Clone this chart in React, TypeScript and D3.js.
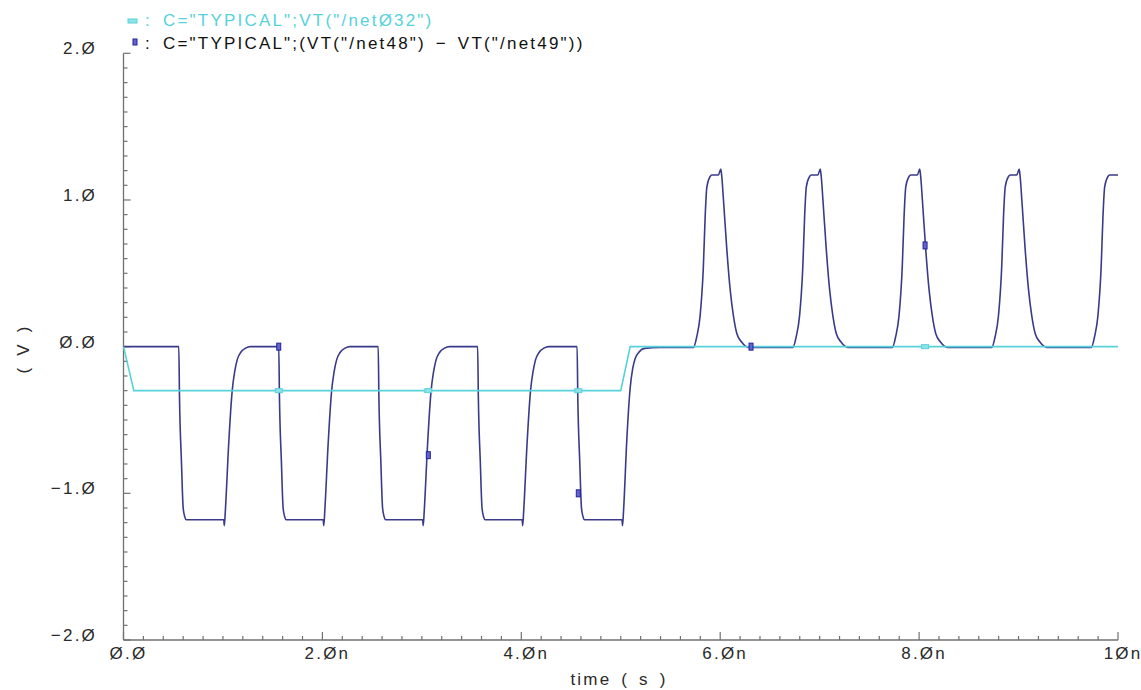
import React from "react";
import * as d3 from "d3";

const W = 1141;
const H = 690;

// Axis ticks and labels (Cadence style slashed zeros)
const yTicks = [2, 1, 0, -1, -2];
const yTickLabels = ["2.Ø", "1.Ø", "Ø.Ø", "−1.Ø", "−2.Ø"];
const xTicks = [0, 2, 4, 6, 8, 10];
const xTickLabels = ["Ø.Ø", "2.Øn", "4.Øn", "6.Øn", "8.Øn", "1Øn"];
const xTitle = "time ( s )";
const yTitle = "( V )";

const legendLabels = [
  'C="TYPICAL";VT("/netØ32")',
  'C="TYPICAL";(VT("/net48") − VT("/net49"))',
];

// VT("/net032"): [time (ns), volts]
const net032: [number, number][] = [
  [0, 0], [0.104, -0.3], [5.0, -0.3], [5.095, 0], [10, 0],
];

// VT("/net48") - VT("/net49"): [time (ns), volts]
const diff: [number, number][] = [
  [0, 0],
  [0.556, 0], [0.563, -0.34], [0.583, -0.79], [0.6, -1.1], [0.616, -1.16], [0.631, -1.18],
  [1.008, -1.18], [1.014, -1.22], [1.024, -1.12], [1.058, -0.66], [1.093, -0.3], [1.118, -0.17], [1.143, -0.09], [1.178, -0.04], [1.228, -0.01], [1.278, 0],
  [1.561, 0], [1.568, -0.34], [1.588, -0.79], [1.605, -1.1], [1.621, -1.16], [1.636, -1.18],
  [2.008, -1.18], [2.014, -1.22], [2.024, -1.12], [2.058, -0.66], [2.093, -0.3], [2.118, -0.17], [2.143, -0.09], [2.178, -0.04], [2.228, -0.01], [2.278, 0],
  [2.561, 0], [2.568, -0.34], [2.588, -0.79], [2.605, -1.1], [2.621, -1.16], [2.636, -1.18],
  [3.008, -1.18], [3.014, -1.22], [3.024, -1.12], [3.058, -0.66], [3.093, -0.3], [3.118, -0.17], [3.143, -0.09], [3.178, -0.04], [3.228, -0.01], [3.278, 0],
  [3.561, 0], [3.568, -0.34], [3.588, -0.79], [3.605, -1.1], [3.621, -1.16], [3.636, -1.18],
  [4.008, -1.18], [4.014, -1.22], [4.024, -1.12], [4.058, -0.66], [4.093, -0.3], [4.118, -0.17], [4.143, -0.09], [4.178, -0.04], [4.228, -0.01], [4.278, 0],
  [4.561, 0], [4.568, -0.34], [4.588, -0.79], [4.605, -1.1], [4.621, -1.16], [4.636, -1.18],
  [5.012, -1.18], [5.018, -1.22], [5.028, -1.12], [5.062, -0.62], [5.095, -0.28], [5.12, -0.15], [5.145, -0.08], [5.18, -0.04], [5.24, -0.012], [5.4, -0.006],
  [5.731, -0.005], [5.765, 0.07], [5.798, 0.21], [5.831, 0.55], [5.849, 0.89], [5.866, 1.09], [5.899, 1.16], [5.916, 1.17], [5.982, 1.17], [6.006, 1.21], [6.016, 1.16], [6.033, 1.0], [6.067, 0.66], [6.1, 0.39], [6.133, 0.21], [6.167, 0.09], [6.217, 0.03], [6.284, -0.005],
  [6.731, -0.005], [6.765, 0.07], [6.798, 0.21], [6.831, 0.55], [6.849, 0.89], [6.866, 1.09], [6.899, 1.16], [6.916, 1.17], [6.982, 1.17], [7.006, 1.21], [7.016, 1.16], [7.033, 1.0], [7.067, 0.66], [7.1, 0.39], [7.133, 0.21], [7.167, 0.09], [7.217, 0.03], [7.284, -0.005],
  [7.731, -0.005], [7.765, 0.07], [7.798, 0.21], [7.831, 0.55], [7.849, 0.89], [7.866, 1.09], [7.899, 1.16], [7.916, 1.17], [7.982, 1.17], [8.006, 1.21], [8.016, 1.16], [8.033, 1.0], [8.067, 0.66], [8.1, 0.39], [8.133, 0.21], [8.167, 0.09], [8.217, 0.03], [8.284, -0.005],
  [8.731, -0.005], [8.765, 0.07], [8.798, 0.21], [8.831, 0.55], [8.849, 0.89], [8.866, 1.09], [8.899, 1.16], [8.916, 1.17], [8.982, 1.17], [9.006, 1.21], [9.016, 1.16], [9.033, 1.0], [9.067, 0.66], [9.1, 0.39], [9.133, 0.21], [9.167, 0.09], [9.217, 0.03], [9.284, -0.005],
  [9.731, -0.005], [9.765, 0.07], [9.798, 0.21], [9.831, 0.55], [9.849, 0.89], [9.866, 1.09], [9.899, 1.16], [9.916, 1.17], [10.0, 1.17],
];

// point markers drawn on the traces
const diffMarkers: [number, number][] = [[1.561, 0], [3.065, -0.74], [4.573, -1.0], [6.31, 0], [8.06, 0.69]];
const netMarkers: [number, number][] = [[1.561, -0.3], [3.065, -0.3], [4.573, -0.3], [8.06, 0]];

const CYAN = "#56d2da";
const NAVY = "#3a3a8c";
const AXIS = "#707070";
const TEXT = "#2a2a2a";
const FONT = "'Liberation Sans', Arial, sans-serif";
const FS = 17;
const LS = 2.2;
const WS = 3;

export default function App() {
  const x = d3.scaleLinear().domain([0, 10]).range([123.5, 1118]);
  const y = d3.scaleLinear().domain([-2, 2]).range([640, 53.3]);
  const smooth = d3
    .line<[number, number]>()
    .x((d) => x(d[0]))
    .y((d) => y(d[1]))
    .curve(d3.curveMonotoneX);
  const straight = d3
    .line<[number, number]>()
    .x((d) => x(d[0]))
    .y((d) => y(d[1]));

  const yMinor = d3.range(-20, 21).map((i) => i / 10);
  const xMinor = d3.range(0, 51).map((i) => i / 5);
  const x0 = x(0);
  const yb = y(-2);

  const txt = { fontSize: FS, letterSpacing: LS, wordSpacing: WS } as const;

  return (
    <svg
      width={W}
      height={H}
      style={{ position: "absolute", left: 0, top: 0, background: "#ffffff" }}
      fontFamily={FONT}
    >
      {/* axes */}
      <line x1={x0} x2={x0} y1={y(2)} y2={yb} stroke={AXIS} strokeWidth={1.3} />
      <line x1={x0} x2={x(10)} y1={yb} y2={yb} stroke={AXIS} strokeWidth={1.3} />
      {yMinor.map((v, i) => {
        const major = Math.abs(v - Math.round(v)) < 1e-6;
        return (
          <line key={"ym" + i} x1={x0} x2={x0 + (major ? 7 : 4)} y1={y(v)} y2={y(v)} stroke={AXIS} strokeWidth={1.2} />
        );
      })}
      {xMinor.map((v, i) => {
        const major = Math.abs(v / 2 - Math.round(v / 2)) < 1e-6;
        return (
          <line key={"xm" + i} x1={x(v)} x2={x(v)} y1={yb} y2={yb - (major ? 8 : 4)} stroke={AXIS} strokeWidth={1.2} />
        );
      })}
      {yTicks.map((v, i) => (
        <text key={"yt" + i} x={97} y={y(v) + 1} textAnchor="end" fill={TEXT} {...txt}>
          {yTickLabels[i]}
        </text>
      ))}
      {xTicks.map((v, i) => (
        <text key={"xt" + i} x={x(v) + 5} y={659} textAnchor="middle" fill={TEXT} {...txt}>
          {xTickLabels[i]}
        </text>
      ))}
      <text x={619} y={685} textAnchor="middle" fill={TEXT} {...txt}>
        {xTitle}
      </text>
      <text transform={`translate(29,349) rotate(-90)`} textAnchor="middle" fill={TEXT} {...txt}>
        {yTitle}
      </text>

      {/* traces */}
      <path d={smooth(diff) || ""} fill="none" stroke={NAVY} strokeWidth={1.6} />
      <path d={straight(net032) || ""} fill="none" stroke={CYAN} strokeWidth={1.6} />
      {diffMarkers.map((d, i) => (
        <rect key={"dm" + i} x={x(d[0]) - 2} y={y(d[1]) - 3.5} width={4} height={7} fill="#6464d0" stroke="#22229c" strokeWidth={1} />
      ))}
      {netMarkers.map((d, i) => (
        <rect key={"nm" + i} x={x(d[0]) - 3.5} y={y(d[1]) - 2} width={7} height={4} fill="#8fe3e8" stroke={CYAN} strokeWidth={1} />
      ))}

      {/* legend */}
      <rect x={128} y={19} width={9} height={4} fill="#8fe3e8" stroke={CYAN} strokeWidth={1} />
      <text x={145} y={26} fill={CYAN} {...txt}>:</text>
      <text x={163} y={26} fill={CYAN} {...txt}>{legendLabels[0]}</text>
      <rect x={133} y={39} width={4} height={6} fill="#6464d0" stroke="#22229c" strokeWidth={1} />
      <text x={145} y={49} fill="#111" {...txt}>:</text>
      <text x={163} y={49} fill="#111" {...txt}>{legendLabels[1]}</text>
    </svg>
  );
}
